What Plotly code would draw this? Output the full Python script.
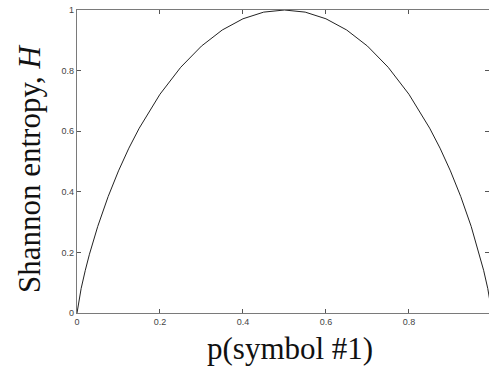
import plotly.graph_objects as go

# Probability of symbol #1 and the corresponding binary Shannon entropy
p_values = [0.0, 0.005, 0.01, 0.02, 0.03, 0.05, 0.075, 0.1, 0.125, 0.15, 0.2, 0.25,
            0.3, 0.35, 0.4, 0.45, 0.5, 0.55, 0.6, 0.65, 0.7, 0.75, 0.8, 0.85,
            0.875, 0.9, 0.925, 0.95, 0.97, 0.98, 0.99, 0.995, 1.0]
h_values = [0.0, 0.045, 0.081, 0.141, 0.194, 0.286, 0.384, 0.469, 0.544, 0.610, 0.722, 0.811,
            0.881, 0.934, 0.971, 0.993, 1.0, 0.993, 0.971, 0.934, 0.881, 0.811, 0.722, 0.610,
            0.544, 0.469, 0.384, 0.286, 0.194, 0.141, 0.081, 0.045, 0.0]

x_ticks = [0, 0.2, 0.4, 0.6, 0.8]
x_tick_labels = ["0", "0.2", "0.4", "0.6", "0.8"]
y_ticks = [0, 0.2, 0.4, 0.6, 0.8, 1]
y_tick_labels = ["0", "0.2", "0.4", "0.6", "0.8", "1"]

axis_grey = "#7a7a7a"
tick_font = dict(family="Liberation Sans, Arial, sans-serif", size=9, color="#444444")
title_font = dict(family="Liberation Serif, Times New Roman, serif", size=31, color="#111111")

fig = go.Figure()
fig.add_trace(go.Scatter(
    x=p_values, y=h_values, mode="lines",
    line=dict(color="#222222", width=1), showlegend=False,
))
# invisible trace that carries the right-hand tick marks
fig.add_trace(go.Scatter(x=[0], y=[0], yaxis="y2", mode="lines",
                         line=dict(width=0), showlegend=False, hoverinfo="skip"))

fig.update_layout(
    width=489, height=369,
    margin=dict(l=77, r=0, t=10, b=56),
    paper_bgcolor="white", plot_bgcolor="white",
    xaxis=dict(
        range=[0, 0.993], tickvals=x_ticks, ticktext=x_tick_labels,
        showgrid=False, zeroline=False, showline=True, linecolor=axis_grey, linewidth=1.3,
        mirror="ticks", ticks="inside", ticklen=4, tickcolor="#555555", tickwidth=1,
        tickfont=tick_font,
    ),
    yaxis=dict(
        range=[0, 1], tickvals=y_ticks, ticktext=y_tick_labels,
        showgrid=False, zeroline=False, showline=True, linecolor=axis_grey, linewidth=1.3,
        ticks="inside", ticklen=4, tickcolor="#555555", tickwidth=1,
        tickfont=tick_font,
    ),
    yaxis2=dict(
        range=[0, 1], overlaying="y", side="right", tickvals=y_ticks,
        showticklabels=False, showgrid=False, zeroline=False, showline=False,
        ticks="inside", ticklen=4, tickcolor="#555555",
    ),
    annotations=[
        dict(text="Shannon entropy, <i>H</i>", x=29, y=169, xref="paper", yref="paper",
             showarrow=False, textangle=-90, font=title_font,
             xanchor="center", yanchor="middle"),
        dict(text="p(symbol #1)", x=290, y=348, xref="paper", yref="paper",
             showarrow=False, font=title_font, xanchor="center", yanchor="middle"),
    ],
)

# annotation positions are given in pixels; convert to paper coordinates
plot_w = 489 - 77 - 0
plot_h = 369 - 10 - 56
for ann in fig.layout.annotations:
    ann.x = (ann.x - 77) / plot_w
    ann.y = (369 - 56 - ann.y) / plot_h

fig.write_html("out.html")
